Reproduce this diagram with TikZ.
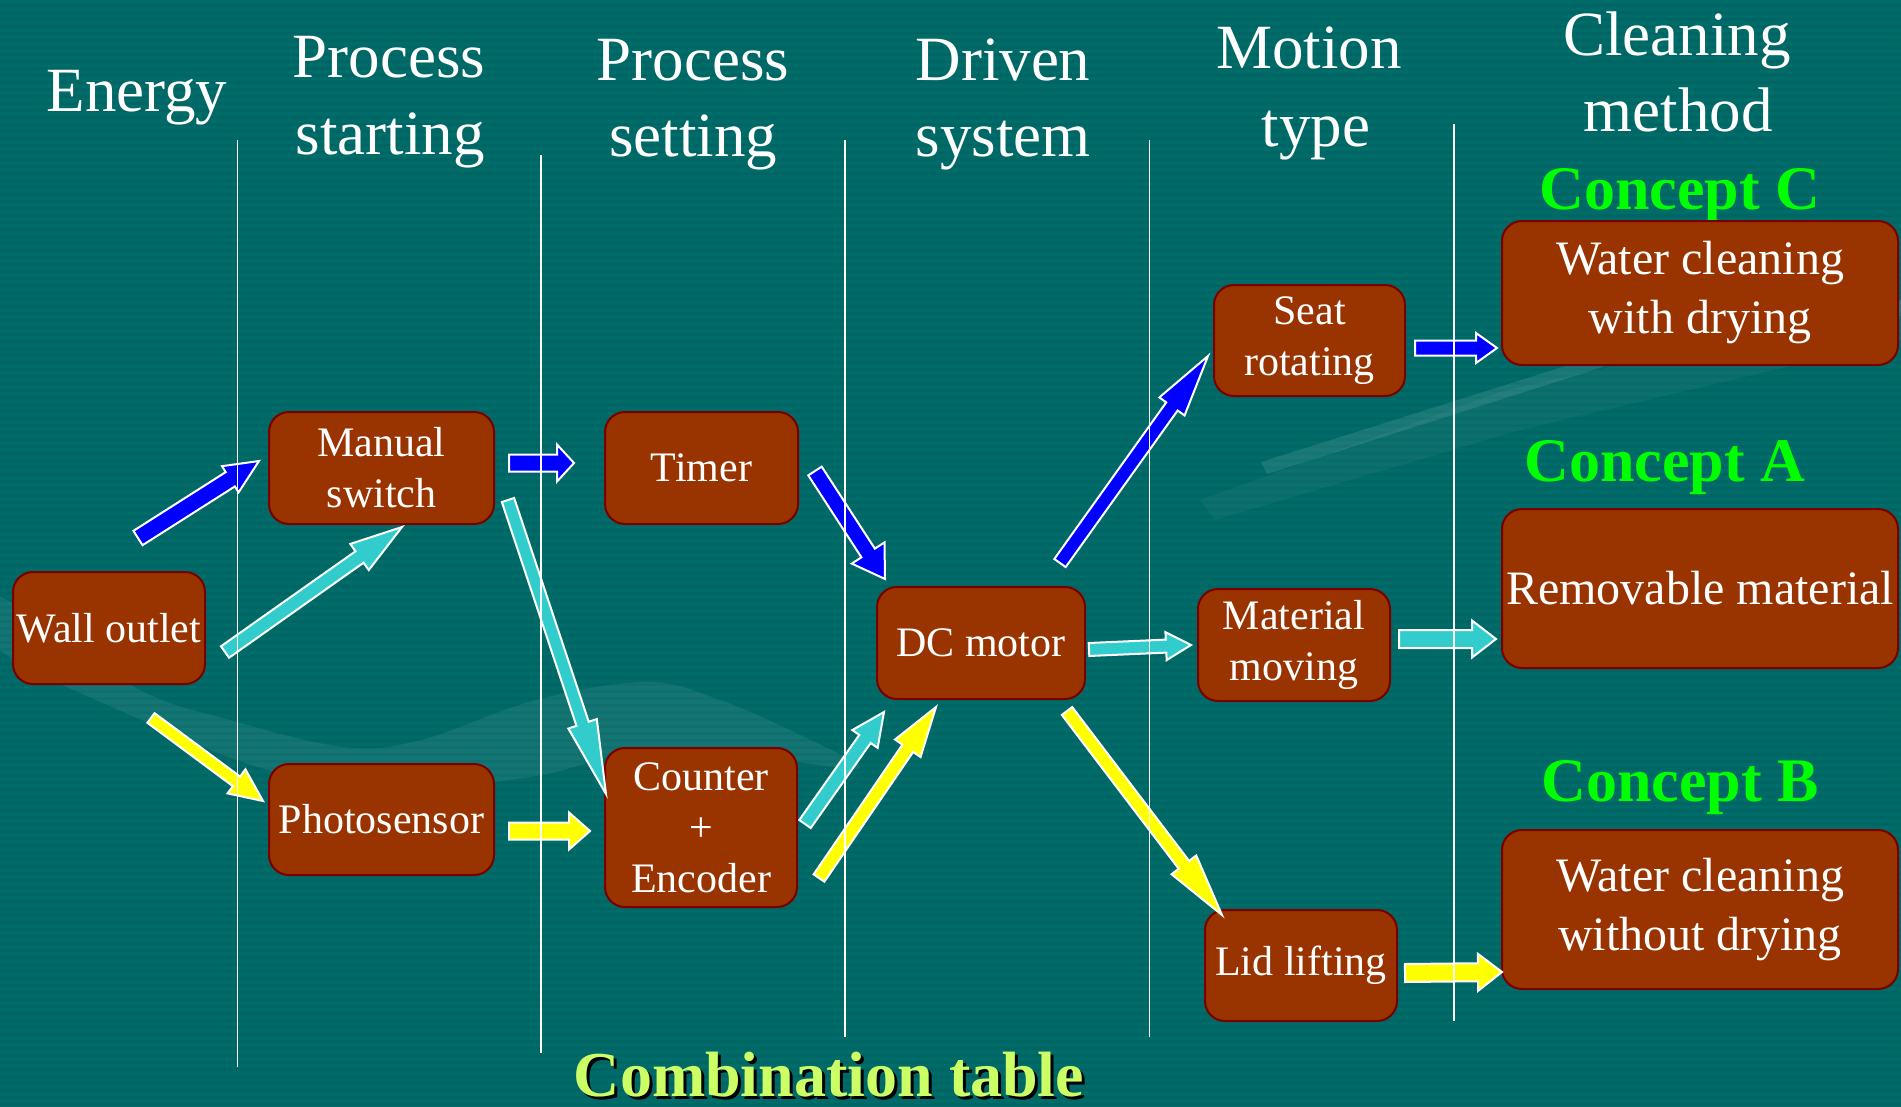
\documentclass[tikz,border=0pt]{standalone}
\usepackage{fontspec}
\setmainfont{Liberation Serif}
\usetikzlibrary{calc}

\definecolor{bgteal}{HTML}{006563}
\definecolor{bgstripe}{HTML}{006C6A}
\definecolor{boxfill}{HTML}{993300}
\definecolor{boxedge}{HTML}{7A0000}
\definecolor{arrblue}{HTML}{0000FF}
\definecolor{arrcyan}{HTML}{33CCCC}
\definecolor{arryellow}{HTML}{FFFF00}
\definecolor{conceptgreen}{HTML}{00FF00}
\definecolor{titlelime}{HTML}{CCFF66}

% block arrow: style, tail, tip, half shaft width, half head width, head length
\newcommand{\blockarrow}[6]{%
  \coordinate (ba-h) at ($(#3)!#6!(#2)$);
  \path[#1] ($(#2)!#4!90:(#3)$) -- ($(ba-h)!#4!90:(#3)$) -- ($(ba-h)!#5!90:(#3)$)
    -- (#3) -- ($(ba-h)!#5!-90:(#3)$) -- ($(ba-h)!#4!-90:(#3)$)
    -- ($(#2)!#4!-90:(#3)$) -- cycle;
}

\tikzset{
  box/.style={draw=boxedge, line width=2pt, fill=boxfill, rounded corners=20pt,
    text=white, align=center, inner sep=0pt, font=\fontsize{42}{51}\selectfont},
  bigbox/.style={box, font=\fontsize{48}{59}\selectfont},
  header/.style={text=white, anchor=base, inner sep=0pt, font=\fontsize{63}{76}\selectfont},
  concept/.style={text=conceptgreen, anchor=base, inner sep=0pt, font=\fontsize{62}{70}\selectfont\bfseries},
  lane/.style={draw=white, line width=1.6pt},
  fatarrow/.style={draw=white, line width=2pt, line join=miter},
  bluearrow/.style={fatarrow, fill=arrblue},
  cyanarrow/.style={fatarrow, fill=arrcyan},
  yellowarrow/.style={fatarrow, fill=arryellow},
}

\begin{document}
\begin{tikzpicture}[x=1pt,y=-1pt]
\useasboundingbox (0,0) rectangle (1901,1106);

% striped teal backdrop
\fill[bgteal] (0,0) rectangle (1901,1106);
\foreach \k in {0,...,158} \fill[bgstripe] (0,{\k*7}) rectangle (1901,{\k*7+3.5});

% faint light swooshes
\fill[white, opacity=0.07] plot[smooth cycle, tension=0.6] coordinates {
  (0,597) (134,687) (230,720) (344,747) (421,740) (536,700) (647,682)
  (720,700) (800,735) (860,768) (780,760) (650,748) (536,776) (383,790)
  (268,770) (153,725) (0,650)};
\fill[white, opacity=0.1] (1261,462) -- (1610,352) -- (1901,300) -- (1901,316)
  -- (1612,364) -- (1267,474) -- cycle;
\fill[white, opacity=0.04] (1200,500) -- (1500,392) -- (1901,300) -- (1901,340)
  -- (1520,430) -- (1215,520) -- cycle;

% column headings
\node[header] (hEnergy) at (137,111.7) {Energy};
\node[header] (hStartA) at (389,77.3) {Process};
\node[header] (hStartB) at (390,154) {starting};
\node[header] (hSetA) at (693,80.7) {Process};
\node[header] (hSetB) at (693,156.7) {setting};
\node[header] (hDrivA) at (1003,80.7) {Driven};
\node[header] (hDrivB) at (1003,156.7) {system};
\node[header] (hMotA) at (1309,68.3) {Motion};
\node[header] (hMotB) at (1316,146.7) {type};
\node[header] (hCleanA) at (1677,55) {Cleaning};
\node[header] (hCleanB) at (1678,131.7) {method};

% concept labels
\node[concept] (cC) at (1680,209.5) {Concept C};
\node[concept] (cA) at (1665,481) {Concept A};
\node[concept] (cB) at (1680,801) {Concept B};

% function boxes
\node[box, minimum width=192pt, minimum height=112pt] (wall) at (109,628) {Wall outlet};
\node[box, minimum width=225pt, minimum height=112pt] (manual) at (381.5,468) {Manual\\switch};
\node[box, minimum width=225pt, minimum height=111pt] (photo) at (381.5,819.5) {Photosensor};
\node[box, minimum width=193pt, minimum height=112pt] (timer) at (701.5,468) {Timer};
\node[box, minimum width=192pt, minimum height=159pt] (counter) at (701,827.5) {Counter\\+\\Encoder};
\node[box, minimum width=208pt, minimum height=112pt] (dc) at (981,643) {DC motor};
\node[box, minimum width=191pt, minimum height=111pt] (seat) at (1309.5,340.5) {Seat\\rotating};
\node[box, minimum width=192pt, minimum height=112pt] (material) at (1294,645) {Material\\moving};
\node[box, minimum width=192pt, minimum height=111pt] (lid) at (1301,965.5) {Lid lifting};
\node[bigbox, minimum width=396pt, minimum height=144pt] (wetdry) at (1700,293) {Water cleaning\\with drying};
\node[bigbox, minimum width=396pt, minimum height=159pt] (removable) at (1700,588.5) {Removable material};
\node[bigbox, minimum width=396pt, minimum height=159pt] (wetnodry) at (1700,909.5) {Water cleaning\\without drying};

% arrow end points
\coordinate (b1s) at (138,538);   \coordinate (b1e) at (259,461);
\coordinate (c1s) at (225,652);   \coordinate (c1e) at (402,527);
\coordinate (y1s) at (151,718);   \coordinate (y1e) at (263,801);
\coordinate (b2s) at (509,463);   \coordinate (b2e) at (574,463);
\coordinate (c2s) at (508,500);   \coordinate (c2e) at (606,794);
\coordinate (y2s) at (509,831);   \coordinate (y2e) at (590,831);
\coordinate (b3s) at (815,471);   \coordinate (b3e) at (885,579);
\coordinate (c3s) at (805,824);   \coordinate (c3e) at (884,712);
\coordinate (y3s) at (819,878);   \coordinate (y3e) at (936,707);
\coordinate (b4s) at (1060,563);  \coordinate (b4e) at (1208,356);
\coordinate (c4s) at (1089,649.5);\coordinate (c4e) at (1191,645);
\coordinate (y4s) at (1067,711);  \coordinate (y4e) at (1222,915);
\coordinate (b5s) at (1415,348);  \coordinate (b5e) at (1497,348);
\coordinate (c5s) at (1399,639);  \coordinate (c5e) at (1496,639);
\coordinate (y5s) at (1405,973);  \coordinate (y5e) at (1502,972);

% blue route
\blockarrow{bluearrow}{b1s}{b1e}{8.5pt}{15.5pt}{34pt}
\blockarrow{bluearrow}{b2s}{b2e}{8.5pt}{18.5pt}{17pt}
\blockarrow{bluearrow}{b3s}{b3e}{8pt}{19.5pt}{31pt}
\blockarrow{bluearrow}{b4s}{b4e}{7pt}{15.5pt}{62pt}
\blockarrow{bluearrow}{b5s}{b5e}{7.5pt}{15pt}{21pt}
% cyan route
\blockarrow{cyanarrow}{c1s}{c1e}{7pt}{16pt}{52pt}
\blockarrow{cyanarrow}{c2s}{c2e}{6.5pt}{15pt}{74pt}
\blockarrow{cyanarrow}{c3s}{c3e}{7pt}{15.5pt}{33pt}
\blockarrow{cyanarrow}{c4s}{c4e}{6.5pt}{14pt}{25pt}
\blockarrow{cyanarrow}{c5s}{c5e}{9pt}{18.5pt}{24pt}
% yellow route
\blockarrow{yellowarrow}{y1s}{y1e}{6pt}{15pt}{33pt}
\blockarrow{yellowarrow}{y2s}{y2e}{8.5pt}{18.5pt}{21pt}
\blockarrow{yellowarrow}{y3s}{y3e}{6.5pt}{15.5pt}{50pt}
\blockarrow{yellowarrow}{y4s}{y4e}{6.5pt}{15.5pt}{63pt}
\blockarrow{yellowarrow}{y5s}{y5e}{9pt}{18.5pt}{24pt}

% column separators
\coordinate (l1t) at (237.5,140);  \coordinate (l1b) at (237.5,1067);
\coordinate (l2t) at (541,155);    \coordinate (l2b) at (541,1053);
\coordinate (l3t) at (845,140);    \coordinate (l3b) at (845,1037);
\coordinate (l4t) at (1149.5,140); \coordinate (l4b) at (1149.5,1037);
\coordinate (l5t) at (1454,124);   \coordinate (l5b) at (1454,1021);
\foreach \i in {1,...,5} \draw[lane] (l\i t) -- (l\i b);

% caption with drop shadow
\node[anchor=base, inner sep=0pt, text=black, font=\fontsize{64}{70}\selectfont\bfseries]
  (titleshadow) at (832,1099) {Combination table};
\node[anchor=base, inner sep=0pt, text=titlelime, font=\fontsize{64}{70}\selectfont\bfseries]
  (title) at (829,1096) {Combination table};
\end{tikzpicture}
\end{document}
